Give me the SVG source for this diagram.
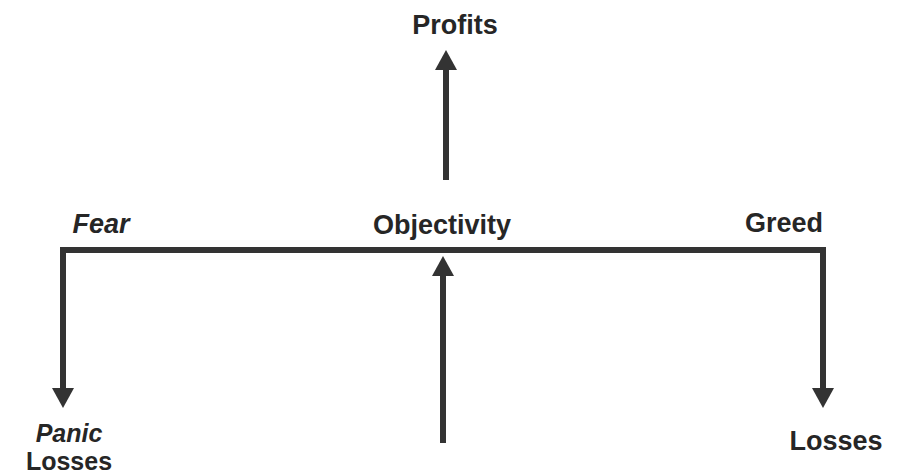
<svg xmlns="http://www.w3.org/2000/svg" width="899" height="476" viewBox="0 0 899 476">
<style>
.t{font-family:"Liberation Sans",Arial,sans-serif;font-weight:bold;font-size:27px;fill:#262626;text-anchor:middle}
.i{font-style:italic}
.s{font-size:25px}
.c{fill:none;stroke:#333;stroke-width:6;stroke-linejoin:miter}
</style>
<defs>
<marker id="ah" viewBox="0 0 20 22" refX="0" refY="11" markerWidth="20" markerHeight="22" markerUnits="userSpaceOnUse" orient="auto">
<path d="M0,0 L20,11 L0,22 z" fill="#333"/>
</marker>
</defs>
<rect width="899" height="476" fill="#fff"/>
<g id="connectors">
<path class="c" d="M446,180 V70" marker-end="url(#ah)"/>
<path class="c" d="M443,443 V276" marker-end="url(#ah)"/>
<path class="c" d="M443,250 H63 V388" marker-end="url(#ah)"/>
<path class="c" d="M443,250 H823 V388" marker-end="url(#ah)"/>
</g>
<g id="profits"><text class="t" x="455" y="34">Profits</text></g>
<g id="fear"><text class="t i" x="101" y="233">Fear</text></g>
<g id="objectivity"><text class="t" x="442" y="234">Objectivity</text></g>
<g id="greed"><text class="t" x="784" y="232">Greed</text></g>
<g id="panic-losses"><text class="t i s" x="69" y="442">Panic</text><text class="t s" x="69" y="470">Losses</text></g>
<g id="losses"><text class="t" x="836" y="450">Losses</text></g>
</svg>
